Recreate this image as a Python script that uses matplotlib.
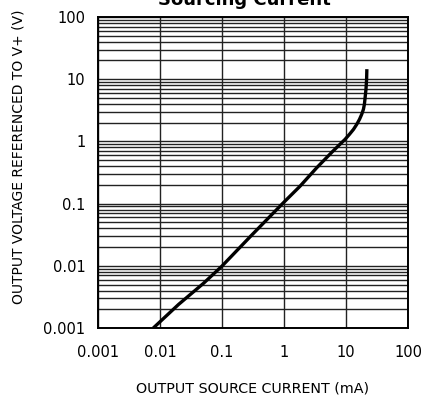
import matplotlib
matplotlib.use("Agg")
import matplotlib.pyplot as plt
from matplotlib.ticker import LogLocator, NullFormatter

# output source current (mA) vs output voltage referenced to V+ (V)
current = [0.0078, 0.02, 0.05, 0.099, 0.3, 0.975, 1.81, 3.37, 6.0, 9.64, 11.35, 13.2,
           14.9, 16.5, 17.9, 19.1, 19.8, 20.2, 21.0, 21.5, 21.7]
voltage = [0.001, 0.0024, 0.0052, 0.0098, 0.031, 0.103, 0.19, 0.377, 0.68, 1.077, 1.297, 1.56,
           1.88, 2.26, 2.72, 3.28, 3.95, 4.75, 6.9, 10.0, 14.5]

xticks = [0.001, 0.01, 0.1, 1, 10, 100]
xtick_labels = ["0.001", "0.01", "0.1", "1", "10", "100"]
yticks = [0.001, 0.01, 0.1, 1, 10, 100]
ytick_labels = ["0.001", "0.01", "0.1", "1", "10", "100"]

fig = plt.figure(figsize=(4.22, 3.96), dpi=100)
ax = fig.add_axes([98 / 422, 1 - 328 / 396, 310 / 422, 311 / 396])

ax.plot(current, voltage, color="black", lw=2.4, solid_capstyle="butt",
        solid_joinstyle="round", zorder=3)

ax.set_xscale("log")
ax.set_yscale("log")
ax.set_xlim(0.001, 100)
ax.set_ylim(0.001, 100)

ax.set_xticks(xticks)
ax.set_xticklabels(xtick_labels)
ax.set_yticks(yticks)
ax.set_yticklabels(ytick_labels)
ax.yaxis.set_minor_locator(LogLocator(base=10, subs=range(2, 10), numticks=20))
ax.yaxis.set_minor_formatter(NullFormatter())
ax.xaxis.set_minor_locator(plt.NullLocator())

ax.grid(True, which="major", axis="both", color="#222222", lw=1.0)
ax.grid(True, which="minor", axis="y", color="#222222", lw=1.0)
ax.tick_params(which="both", length=0, labelsize=10.5)
ax.tick_params(axis="x", pad=12)
ax.tick_params(axis="y", pad=9)
for s in ax.spines.values():
    s.set_linewidth(1.4)

ax.set_xlabel("OUTPUT SOURCE CURRENT (mA)", fontsize=10.3)
ax.xaxis.set_label_coords(0.5, -(388 - 328) / 311, transform=ax.transAxes)
ax.xaxis.label.set_va("center")
ax.set_ylabel("OUTPUT VOLTAGE REFERENCED TO V+ (V)", fontsize=10)
ax.yaxis.set_label_coords(-(98 - 19) / 310, (328 - 157) / 311, transform=ax.transAxes)
ax.yaxis.label.set_va("center")

fig.text(244 / 422, 1 - 0 / 396, "Sourcing Current", ha="center", va="center",
         fontsize=13, fontweight="bold")

fig.savefig("out.png", dpi=100)
